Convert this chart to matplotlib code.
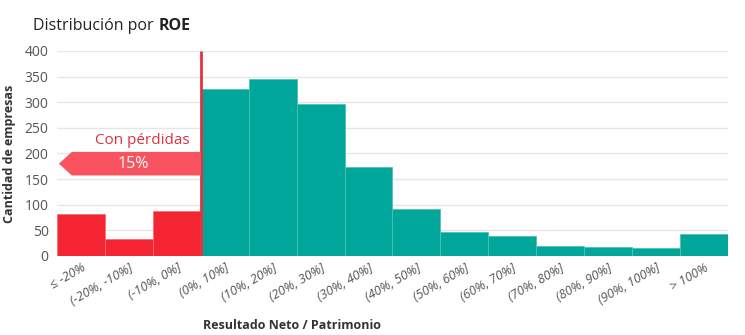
import numpy as np
import matplotlib
matplotlib.use("Agg")
import matplotlib.pyplot as plt
from matplotlib.patches import Polygon

plt.rcParams['font.family'] = ['Open Sans', 'DejaVu Sans']

categorias = ["≤ -20%", "(-20%, -10%]", "(-10%, 0%]", "(0%, 10%]", "(10%, 20%]",
              "(20%, 30%]", "(30%, 40%]", "(40%, 50%]", "(50%, 60%]", "(60%, 70%]",
              "(70%, 80%]", "(80%, 90%]", "(90%, 100%]", "> 100%"]
empresas = [82, 33, 87, 325, 345, 296, 174, 92, 46, 38, 19, 18, 16, 43]
n_perdidas = 3
pct_perdidas = "15%"

rojo = "#F52433"
verde = "#00A699"

fig = plt.figure(figsize=(7.45, 3.35), dpi=100)
ax = fig.add_axes([0.0765, 0.236, 0.9005, 0.612])

x = np.arange(len(categorias))
colores = [rojo if i < n_perdidas else verde for i in x]
bordes = ["#F7707A" if i < n_perdidas else "#4DC2B8" for i in x]
ax.bar(x, empresas, width=1.0, color=colores, edgecolor=bordes, linewidth=0.6, zorder=2)

ax.set_xlim(-0.5, len(categorias) - 0.5)
ax.set_ylim(0, 400)
ax.set_yticks(range(0, 401, 50))
ax.grid(axis="y", color="#E6E6E6", linewidth=1, zorder=0)
ax.set_axisbelow(True)
for s in ax.spines.values():
    s.set_visible(False)
ax.tick_params(length=0, colors="#555555", labelsize=10)
ax.tick_params(axis="y", pad=6)
ax.tick_params(axis="x", pad=4)
ax.set_xticks(x)
ax.set_xticklabels(categorias, rotation=30, ha="right", rotation_mode="anchor",
                   fontstyle="italic", fontsize=9.2)

# linea de cero y flecha de perdidas
lim = n_perdidas - 0.5
ax.plot([lim, lim], [0, 400], color="#E8303E", linewidth=2, zorder=3, solid_capstyle="butt")
flecha = Polygon([(lim, 203), (-0.19, 203), (-0.46, 180), (-0.19, 157), (lim, 157)],
                 closed=True, facecolor="#F8535F", edgecolor="none", zorder=3)
ax.add_patch(flecha)
ax.text(1.09, 180, pct_perdidas, color="white", fontsize=11.5,
        ha="center", va="center", zorder=4)
ax.text(1.29, 226, "Con pérdidas", color="#E0303E", fontsize=11,
        ha="center", va="center", zorder=4)

ax.set_ylabel("Cantidad de empresas", fontsize=9, fontweight="bold", color="#333333", labelpad=6)
ax.set_xlabel("Resultado Neto / Patrimonio", fontsize=9, fontweight="bold", color="#333333")
ax.xaxis.set_label_coords(0.35, -0.34)
ax.xaxis.label.set_va("center")

t1 = fig.text(0.044, 0.91, "Distribución por", fontsize=11.5, color="#222222", va="baseline")
ax.annotate("ROE", xy=(1, 0), xycoords=t1, xytext=(4, 0), textcoords="offset points",
            fontsize=11.5, fontweight="bold", color="#222222", va="bottom", ha="left")

fig.savefig("out.png", dpi=100)
